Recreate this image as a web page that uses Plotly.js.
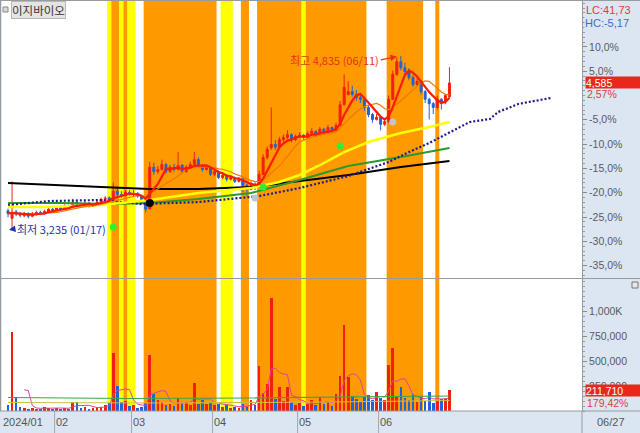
<!DOCTYPE html>
<html><head><meta charset="utf-8">
<script src="https://cdn.plot.ly/plotly-3.0.1.min.js"></script>
<style>html,body{margin:0;padding:0;background:#dce6f2;}#chart{width:640px;height:433px;}</style>
</head><body><div id="chart"></div>
<script>
const stockName = '이지바이오';
const dates = ['01/16','01/17','01/18','01/19','01/22','01/23','01/24','01/25','01/26','01/29','01/30','01/31',
'02/01','02/02','02/05','02/06','02/07','02/08','02/13','02/14','02/15','02/16','02/19','02/20','02/21','02/22','02/23','02/26','02/27','02/28','02/29',
'03/04','03/05','03/06','03/07','03/08','03/11','03/12','03/13','03/14','03/15','03/18','03/19','03/20','03/21','03/22','03/25','03/26','03/27','03/28','03/29',
'04/01','04/02','04/03','04/04','04/05','04/08','04/09','04/11','04/12','04/15','04/16','04/17','04/18','04/19','04/22','04/23','04/24','04/25','04/26','04/29','04/30',
'05/02','05/03','05/07','05/08','05/09','05/10','05/13','05/14','05/16','05/17','05/20','05/21','05/22','05/23','05/24','05/27','05/28','05/29','05/30','05/31',
'06/03','06/04','06/05','06/07','06/10','06/11','06/12','06/13','06/14','06/17','06/18','06/19','06/20','06/21','06/24','06/25','06/26','06/27'];
const openP = [3410,3340,3400,3380,3365,3385,3360,3375,3395,3380,3405,3425,3415,3440,3425,3455,3440,3490,3470,3460,
3480,3450,3470,3490,3515,3530,3505,3590,3560,3550,3580,3560,3570,3545,3490,3430,3810,3770,3790,3835,
3770,3810,3790,3830,3770,3810,3835,3880,3825,3790,3810,3745,3770,3715,3735,3700,3715,3680,3700,3645,
3605,3655,3625,3745,3900,3990,4020,3995,4065,4085,4110,4065,4095,4105,4085,4120,4140,4110,4160,4130,
4175,4150,4195,4385,4480,4505,4480,4450,4435,4360,4295,4250,4270,4205,4230,4435,4665,4780,4725,4690,
4635,4570,4600,4505,4435,4395,4360,4435,4420,4460];
const highP = [3430,3680,3420,3400,3400,3395,3400,3410,3410,3420,3440,3440,3450,3455,3470,3465,3520,3505,3485,3500,
3490,3485,3505,3530,3545,3540,3670,3620,3590,3600,3600,3600,3580,3555,3500,3860,3850,3820,3880,3850,
3830,3840,3950,3840,3830,3860,3950,3900,3840,3830,3820,3790,3780,3760,3745,3730,3725,3720,3710,3660,
3680,3670,3780,3930,4000,4360,4060,4090,4110,4150,4120,4110,4130,4115,4140,4170,4150,4180,4170,4200,
4185,4220,4420,4665,4600,4560,4520,4490,4445,4380,4310,4300,4280,4260,4470,4700,4820,4835,4770,4720,
4660,4630,4610,4520,4450,4410,4470,4445,4480,4730];
const lowP = [3350,3235,3360,3350,3350,3340,3350,3365,3370,3375,3395,3400,3405,3415,3420,3430,3435,3460,3445,3450,
3440,3445,3465,3480,3500,3495,3500,3540,3530,3540,3550,3545,3530,3470,3395,3420,3740,3750,3780,3750,
3760,3770,3780,3750,3760,3800,3820,3810,3770,3780,3730,3730,3700,3700,3680,3690,3665,3670,3580,3545,
3600,3600,3620,3740,3880,3970,3970,3990,4040,4070,4040,4050,4080,4060,4075,4110,4090,4100,4110,4120,
4130,4140,4190,4380,4470,4460,4420,4400,4330,4270,4220,4240,4150,4190,4220,4430,4650,4700,4660,4610,
4550,4560,4480,4400,4250,4300,4340,4340,4390,4450];
const closeP = [3385,3395,3380,3370,3385,3360,3380,3395,3385,3405,3425,3415,3435,3425,3450,3440,3490,3470,3460,3480,
3450,3470,3490,3515,3525,3505,3590,3560,3550,3580,3560,3570,3545,3490,3425,3810,3770,3790,3835,3770,
3810,3790,3825,3770,3810,3835,3880,3825,3790,3810,3745,3770,3715,3735,3700,3715,3680,3700,3645,3605,
3655,3625,3745,3900,3975,4020,3995,4065,4085,4110,4065,4095,4105,4085,4120,4140,4110,4160,4130,4175,
4150,4195,4385,4545,4505,4480,4450,4435,4360,4295,4250,4270,4205,4230,4435,4665,4780,4725,4690,4635,
4570,4600,4505,4435,4395,4360,4435,4395,4470,4585];
const volume = [60000,790000,140000,40000,30000,25000,35000,20000,25000,40000,35000,25000,30000,20000,35000,25000,95000,90000,30000,45000,
25000,30000,45000,40000,60000,85000,583000,247000,90000,100000,55000,60000,35000,40000,80000,563000,168000,110000,90000,60000,
75000,55000,130000,80000,95000,60000,277000,70000,110000,75000,90000,60000,70000,45000,60000,35000,40000,30000,75000,40000,
110000,65000,455000,180000,267000,1126000,120000,237000,100000,237000,90000,60000,80000,50000,70000,110000,60000,140000,70000,95000,
50000,170000,346000,860000,336000,150000,120000,90000,140000,160000,110000,190000,130000,110000,464000,632000,148000,240000,130000,110000,
170000,90000,140000,100000,190000,80000,110000,120000,118000,211710];

const monthLabels = ['2024/01','02','03','04','05','06'];
const pctTicks = [15,10,5,-5,-10,-15,-20,-25,-30,-35];
const volTicks = [250000,500000,750000,1000000];
const volTickText = ['250,000','500,000','750,000','1,000K'];

// moving lines (day index, price)
const yellowIdx = [0,10,23,35,47,60,67,72,77,83,89,97,104,109];
const yellowVal = [3444,3444,3463,3509,3573,3619,3674,3739,3830,3950,4042,4125,4180,4226];
const greenIdx = [0,13,25,35,47,60,72,84,97,109];
const greenVal = [3481,3481,3472,3481,3518,3573,3693,3821,3904,3987];
const blackIdx = [0,10,23,35,47,60,72,84,97,109];
const blackVal = [3665,3647,3628,3610,3610,3628,3683,3739,3812,3867];
const spanIdx = [0,10,23,33,47,62,72,84,94,99,104,110,114,119,121,126,130,134];
const spanVal = [3463,3499,3509,3472,3490,3545,3619,3729,3858,3950,4033,4153,4226,4254,4318,4392,4419,4447];
// volume panel lines
const volLineAIdx = [0,30,60,90,109];
const volLineAVal = [135000,125000,130000,145000,150000];
const volLineBIdx = [0,40,80,109];
const volLineBVal = [85000,80000,90000,105000];

// signal bands (1 = orange, 2 = yellow)
const bandFrom = [25,26,28,29,30,34,53,58,62,73,74,94,106];
const bandTo   = [25,27,28,29,31,51,55,59,72,73,88,102,106];
const bandKind = [2,1,2,1,2,1,2,1,1,2,1,1,1];

// signal markers
const sigGreenIdx = [26,63,82], sigGreenVal = [3260,3628,4005];
const sigGrayIdx = [61,95], sigGrayVal = [3527,4226];
const sigBlackIdx = [35], sigBlackVal = [3481];

const FONT = 'Liberation Sans, Noto Sans CJK KR, sans-serif';
const KFONT = 'Noto Sans CJK KR, Liberation Sans, sans-serif';
const idx = dates.map((d,i)=>i);
const n = closeP.length;
const prevClose = closeP[n-2];
const lastClose = closeP[n-1];

function sma(arr, w, partial){
  return arr.map((_,i)=>{
    if(!partial && i < w-1) return null;
    const s = Math.max(0,i-w+1); let t=0;
    for(let k=s;k<=i;k++) t+=arr[k];
    return t/(i-s+1);
  });
}
const fmtDec = v => v.toFixed(2).replace('.',',');
const fmtInt = v => Math.round(v).toLocaleString('en-US');

const ma5 = sma(closeP,5,true), ma10 = sma(closeP,10,true);
const vma5 = sma(volume,5,false);

let hi = -1, hiI = 0, lo = 1e9, loI = 0;
highP.forEach((v,i)=>{ if(v>hi){hi=v;hiI=i;} });
lowP.forEach((v,i)=>{ if(v<lo){lo=v;loI=i;} });

const volColors = closeP.map((c,i)=> c>=openP[i] ? '#f21f0f' : '#1f63d6');

const traces = [
 {type:'bar', x:idx, y:volume, yaxis:'y2', marker:{color:volColors, line:{width:0}}, width:0.65, hoverinfo:'skip'},
 {type:'scatter', mode:'lines', x:idx, y:vma5, yaxis:'y2', line:{color:'#d9469b', width:1}, hoverinfo:'skip'},
 {type:'scatter', mode:'lines', x:volLineAIdx, y:volLineAVal, yaxis:'y2', line:{color:'#3aa84a', width:1.2}, hoverinfo:'skip'},
 {type:'scatter', mode:'lines', x:volLineBIdx, y:volLineBVal, yaxis:'y2', line:{color:'#c8c040', width:1.2}, hoverinfo:'skip'},
 {type:'candlestick', x:idx, open:openP, high:highP, low:lowP, close:closeP, yaxis:'y', whiskerwidth:0,
   increasing:{line:{color:'#f21f0f',width:1}, fillcolor:'#f21f0f'},
   decreasing:{line:{color:'#1f63d6',width:1}, fillcolor:'#1f63d6'}, hoverinfo:'skip'},
 {type:'scatter', mode:'lines', x:blackIdx, y:blackVal, line:{color:'#000000', width:2}, hoverinfo:'skip'},
 {type:'scatter', mode:'lines', x:greenIdx, y:greenVal, line:{color:'#2a9a2a', width:2}, hoverinfo:'skip'},
 {type:'scatter', mode:'lines', x:spanIdx, y:spanVal, line:{color:'#1c1c8c', width:2.2, dash:'2px,2px'}, hoverinfo:'skip'},
 {type:'scatter', mode:'lines', x:yellowIdx, y:yellowVal, line:{color:'#ffff00', width:2.5}, hoverinfo:'skip'},
 {type:'scatter', mode:'lines', x:idx, y:ma10, line:{color:'#f07800', width:1.2}, hoverinfo:'skip'},
 {type:'scatter', mode:'lines', x:idx, y:ma5, line:{color:'#ff1a00', width:2.2}, hoverinfo:'skip'},
 {type:'scatter', mode:'markers', x:sigGreenIdx, y:sigGreenVal, marker:{color:'#33ee33', size:7, symbol:'circle'}, hoverinfo:'skip'},
 {type:'scatter', mode:'markers', x:sigGrayIdx, y:sigGrayVal, marker:{color:'#c4c4c4', size:7, symbol:'circle'}, hoverinfo:'skip'},
 {type:'scatter', mode:'markers', x:sigBlackIdx, y:sigBlackVal, marker:{color:'#000000', size:8, symbol:'circle'}, hoverinfo:'skip'}
];

// layout geometry (pixels of a 640x433 page)
const padL = 2, padR = 58, padT = 1, padB = 22;
const plotW = 640-padL-padR, plotH = 433-padT-padB;
const px = x => (x-padL)/plotW;
const py = y => (433-padB-y)/plotH;
const split = py(278.5);
const pctRange = [-37.65, 19.44];

const shapes = [];
bandFrom.forEach((f,k)=>{
  shapes.push({type:'rect', xref:'x', yref:'paper', x0:f-0.5, x1:bandTo[k]+0.5, y0:0, y1:1, layer:'below',
    fillcolor: bandKind[k]===1 ? '#ff9900' : '#ffff00', line:{width:0}});
});
const monthStart = [];
dates.forEach((d,i)=>{ if(i===0 || d.slice(0,2)!==dates[i-1].slice(0,2)) monthStart.push(i); });
monthStart.forEach((m,k)=>{
  if(k>0) shapes.push({type:'line', xref:'x', yref:'paper', x0:m-0.5, x1:m-0.5, y0:py(433), y1:0, line:{color:'#a0a8b4', width:1}});
});
shapes.push({type:'line', xref:'paper', yref:'paper', x0:px(0), x1:px(640), y0:split, y1:split, line:{color:'#9a9a9a', width:1}});
shapes.push({type:'line', xref:'paper', yref:'paper', x0:px(0), x1:px(640), y0:0, y1:0, line:{color:'#9a9a9a', width:1}});
shapes.push({type:'line', xref:'paper', yref:'paper', x0:px(0), x1:px(640), y0:py(0.5), y1:py(0.5), line:{color:'#9a9a9a', width:1}});
shapes.push({type:'line', xref:'paper', yref:'paper', x0:px(0.5), x1:px(0.5), y0:0, y1:py(0), line:{color:'#9a9a9a', width:1}});
shapes.push({type:'line', xref:'paper', yref:'paper', x0:1, x1:1, y0:py(433), y1:0, line:{color:'#9a9a9a', width:1}});
shapes.push({type:'rect', xref:'paper', yref:'paper', x0:px(3), x1:px(8), y0:py(12), y1:py(7), fillcolor:'#d8d8d8', line:{color:'#888', width:1}});
shapes.push({type:'rect', xref:'paper', yref:'paper', x0:px(632), x1:px(638), y0:py(288), y1:py(282), fillcolor:'#e8e8e8', line:{color:'#777', width:1}});

const annotations = [];
annotations.push({xref:'paper', yref:'paper', x:px(11), y:py(9.5), xanchor:'left', yanchor:'middle', text:stockName, showarrow:false,
  font:{family:KFONT, size:11.5, color:'#333'}, bgcolor:'#e4e4e4', bordercolor:'#b8b8b8', borderwidth:1, borderpad:0});
monthStart.forEach((m,k)=>{
  annotations.push({xref:'x', yref:'paper', x:m-0.5, y:py(422), xanchor:'left', yanchor:'middle', xshift: k===0 ? -5 : -1,
    text:monthLabels[k], showarrow:false, font:{family:FONT, size:11, color:'#555'}});
});
annotations.push({xref:'paper', yref:'paper', x:px(595), y:py(422), xanchor:'left', yanchor:'middle', text:dates[n-1], showarrow:false, font:{family:FONT, size:11, color:'#555'}});
annotations.push({xref:'x', yref:'y', x:hiI, y:hi, ax:-20, ay:4, axref:'pixel', ayref:'pixel', xanchor:'right', yanchor:'middle', showarrow:true,
  arrowhead:2, arrowsize:1, arrowwidth:1.3, arrowcolor:'#e8301c', standoff:4,
  text:'최고 '+fmtInt(hi)+' ('+dates[hiI]+')', font:{family:KFONT, size:11, color:'#e8301c'}});
annotations.push({xref:'x', yref:'y', x:loI, y:lo, ax:6, ay:-1, xshift:-3, axref:'pixel', ayref:'pixel', xanchor:'left', yanchor:'middle', showarrow:true,
  arrowhead:2, arrowsize:1, arrowwidth:1.3, arrowcolor:'#2233aa', standoff:0,
  text:'최저 '+fmtInt(lo)+' ('+dates[loI]+')', font:{family:KFONT, size:11, color:'#2233aa'}});
annotations.push({xref:'paper', yref:'paper', x:px(584), y:py(10), xanchor:'left', yanchor:'middle', showarrow:false,
  text:'LC:'+fmtDec((lastClose-lo)/lo*100), font:{family:FONT, size:11, color:'#e03a3a'}});
annotations.push({xref:'paper', yref:'paper', x:px(584), y:py(23), xanchor:'left', yanchor:'middle', showarrow:false, bgcolor:'#dce6f2', borderpad:0,
  text:'HC:'+fmtDec((lastClose-hi)/hi*100), font:{family:FONT, size:11, color:'#3a6ccc'}});
annotations.push({xref:'paper', yref:'y', x:px(585), y:lastClose, xanchor:'left', yanchor:'middle', showarrow:false, bgcolor:'#e8281a', borderpad:0, width:54, height:11, align:'left',
  text:fmtInt(lastClose), font:{family:FONT, size:10.5, color:'#ffffff'}});
annotations.push({xref:'paper', yref:'y', x:px(585), y:lastClose, yshift:-11, xanchor:'left', yanchor:'middle', showarrow:false,
  text:fmtDec((lastClose-prevClose)/prevClose*100)+'%', font:{family:FONT, size:10.5, color:'#e03a3a'}});
annotations.push({xref:'paper', yref:'y2', x:px(585), y:volume[n-1], yshift:-1, xanchor:'left', yanchor:'middle', showarrow:false, bgcolor:'#e8281a', borderpad:0, width:54, height:11, align:'left',
  text:fmtInt(volume[n-1]), font:{family:FONT, size:10.5, color:'#ffffff'}});
annotations.push({xref:'paper', yref:'y2', x:px(585), y:volume[n-1], yshift:-13, xanchor:'left', yanchor:'middle', showarrow:false,
  text:fmtDec(volume[n-1]/volume[n-2]*100)+'%', font:{family:FONT, size:10.5, color:'#e03a3a'}});

const layout = {
  width:640, height:433, margin:{l:padL, r:padR, t:padT, b:padB, pad:0},
  paper_bgcolor:'#dce6f2', plot_bgcolor:'#ffffff', showlegend:false, hovermode:false, dragmode:false,
  font:{family:FONT, size:10.5, color:'#555'},
  bargap:0,
  xaxis:{range:[(2-8)/4.05, (582-8)/4.05], anchor:'y2', showticklabels:false, ticks:'', showgrid:false, zeroline:false,
    showline:false, rangeslider:{visible:false}, fixedrange:true},
  yaxis:{domain:[split,1], anchor:'x', side:'right', range:pctRange.map(p=>prevClose*(1+p/100)),
    tickmode:'array', tickvals:pctTicks.map(p=>prevClose*(1+p/100)), ticktext:pctTicks.map(p=>p.toFixed(1).replace('.',',')+'%'),
    ticks:'outside', ticklen:4, tickcolor:'#8a8a8a', showline:true, linecolor:'#9a9a9a', linewidth:1, showgrid:false, zeroline:false,
    tickfont:{family:FONT, size:10.5, color:'#5a5a5a'},
    minor:{ticks:'outside', ticklen:2, tick0:prevClose, dtick:prevClose*0.01, tickcolor:'#9a9a9a', showgrid:false}},
  yaxis2:{domain:[0,split], anchor:'x', side:'right', range:[0,1325000],
    tickmode:'array', tickvals:volTicks, ticktext:volTickText,
    ticks:'outside', ticklen:4, tickcolor:'#8a8a8a', showline:true, linecolor:'#9a9a9a', linewidth:1, showgrid:false, zeroline:false,
    tickfont:{family:FONT, size:10.5, color:'#5a5a5a'},
    minor:{ticks:'outside', ticklen:2, tick0:0, dtick:50000, tickcolor:'#9a9a9a', showgrid:false}},
  shapes:shapes, annotations:annotations
};
Plotly.newPlot('chart', traces, layout, {staticPlot:true, displayModeBar:false});
</script></body></html>
